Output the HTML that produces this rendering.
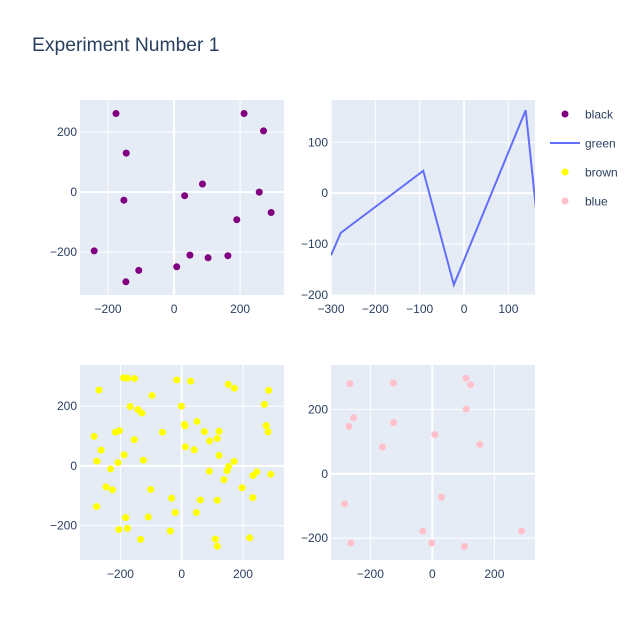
<!DOCTYPE html>
<html><head><meta charset="utf-8"><style>
body{margin:0;background:#fff;}
svg{display:block;font-family:"Liberation Sans",sans-serif;}
</style></head><body>
<svg id="chart" width="640" height="640" xmlns="http://www.w3.org/2000/svg">
<text x="32" y="51" font-size="19.3" fill="#2a3f5f">Experiment Number 1</text>
</svg>
<script>
const blackX=[-176,-145,-152,-242,-146,-107,8,32,48,86,103,163,190,212,271,258,294];
const blackY=[262,130,-27,-196,-299,-261,-249,-12,-210,27,-219,-212,-92,262,204,0,-68];
const greenX=[-300,-278,-92,-23,139,162];
const greenY=[-122,-78,44,-180,163,-29];
const brownX=[-270,-190,-177,-154,-16,29,152,172,284,-97,-1,-168,-143,-130,270,50,9,11,276,282,-286,-263,-217,-203,-155,-63,74,122,116,91,12,41,-188,-277,-208,-125,122,171,-232,153,148,90,138,233,245,291,-247,-226,-101,197,-33,232,61,116,-278,-21,48,-183,-109,-205,-177,-37,-134,110,116,222];
const brownY=[254,295,294,293,288,284,273,260,253,236,200,199,189,177,206,149,139,134,135,114,99,53,113,118,88,113,115,116,92,84,64,54,37,16,11,19,35,15,-10,-2,-16,-18,-46,-32,-20,-28,-70,-80,-79,-73,-108,-106,-114,-115,-136,-156,-156,-173,-171,-213,-209,-218,-246,-245,-269,-241];
const blueX=[-266,-126,108,123,109,-254,-269,-125,8,-161,153,-283,29,-31,288,-263,-2,103];
const blueY=[280,282,297,277,201,174,147,159,122,83,91,-93,-73,-178,-178,-215,-215,-226];
const p1XTicks=[-200,0,200], p1YTicks=[-200,0,200];
const p2XTicks=[-300,-200,-100,0,100], p2YTicks=[-200,-100,0,100];
const p3XTicks=[-200,0,200], p3YTicks=[-200,0,200];
const p4XTicks=[-200,0,200], p4YTicks=[-200,0,200];
const legendLabels=['black','green','brown','blue'];

const NS='http://www.w3.org/2000/svg';
const svg=document.getElementById('chart');
function mk(tag,attrs,parent){const e=document.createElementNS(NS,tag);for(const k in attrs)e.setAttribute(k,attrs[k]);(parent||svg).appendChild(e);return e;}
function fmt(v){return v<0?'\u2212'+Math.abs(v):String(v);}
function panel(name,x0,y0,w,h,xmin,xmax,ymin,ymax,xt,yt){
  const g=mk('g',{});
  
  
  const bg=mk('rect',{x:x0,y:y0,width:w,height:h,fill:'#e5ecf6'},g);
  
  
  const sx=v=>x0+(v-xmin)/(xmax-xmin)*w;
  const sy=v=>y0+h-(v-ymin)/(ymax-ymin)*h;
  xt.forEach(t=>{
    const l=mk('line',{x1:sx(t),x2:sx(t),y1:y0,y2:y0+h,stroke:'#fff','stroke-width':t===0?2:1},g);
    
    
    const tx=mk('text',{x:sx(t),y:y0+h+18,'font-size':12,fill:'#2a3f5f','text-anchor':'middle'},g);
    tx.textContent=fmt(t);
    
    
  });
  yt.forEach(t=>{
    const l=mk('line',{x1:x0,x2:x0+w,y1:sy(t),y2:sy(t),stroke:'#fff','stroke-width':t===0?2:1},g);
    
    
    const tx=mk('text',{x:x0-3,y:sy(t)+4,'font-size':12,fill:'#2a3f5f','text-anchor':'end'},g);
    tx.textContent=fmt(t);
    
    
  });
  const clipId=name+'-clip';
  const cp=mk('clipPath',{id:clipId},g);mk('rect',{x:x0,y:y0,width:w,height:h},cp);
  const plot=mk('g',{'clip-path':'url(#'+clipId+')'},g);
  return {sx,sy,plot};
}
function scatter(p,xs,ys,color,nm){
  xs.forEach((x,i)=>{
    const c=mk('circle',{cx:p.sx(x),cy:p.sy(ys[i]),r:3.5,fill:color},p.plot);
    
    
  });
}
const p1=panel('panel-black',80,100,204,195,-285,333,-343,307,p1XTicks,p1YTicks);
scatter(p1,blackX,blackY,'purple','black');
const p2=panel('panel-green',331,100,204,195,-300,160,-200,183,p2XTicks,p2YTicks);
const ln=mk('polyline',{points:greenX.map((x,i)=>p2.sx(x)+','+p2.sy(greenY[i])).join(' '),fill:'none',stroke:'#636efa','stroke-width':2},p2.plot);


const p3=panel('panel-brown',80,365,204,195,-332,334,-315,338,p3XTicks,p3YTicks);
scatter(p3,brownX,brownY,'yellow','brown');
const p4=panel('panel-blue',331,365,204,195,-327,331,-268,338,p4XTicks,p4YTicks);
scatter(p4,blueX,blueY,'pink','blue');

const lg=mk('g',{});


const colors=['purple','#636efa','yellow','pink'];
legendLabels.forEach((lab,i)=>{
  const y=114+i*29;
  const it=mk('g',{},lg);
  
  
  if(i===1) mk('line',{x1:550,x2:580,y1:y,y2:y,stroke:colors[i],'stroke-width':2},it);
  else mk('circle',{cx:565,cy:y,r:3.5,fill:colors[i]},it);
  const t=mk('text',{x:585,y:y+4.5,'font-size':12,fill:'#2a3f5f'},it);
  t.textContent=lab;
});
</script>
</body></html>
